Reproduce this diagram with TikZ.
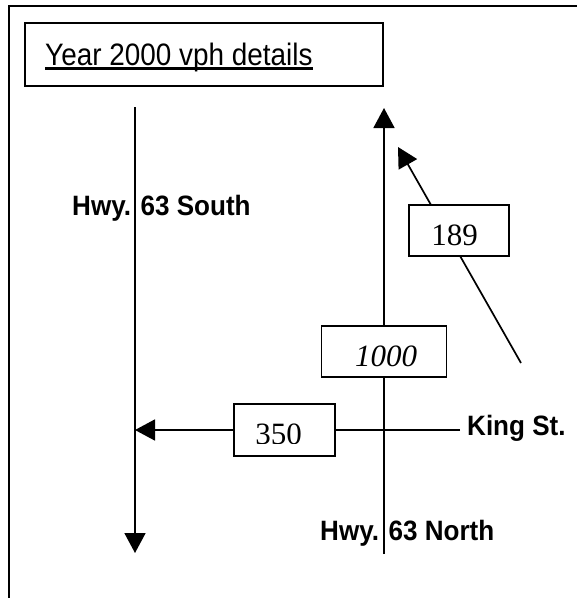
\documentclass[tikz,border=0pt]{standalone}
\usepackage{fontspec}
\setmainfont{Liberation Serif}
\newfontfamily\labfont[FakeStretch=0.93]{Liberation Sans}
\newfontfamily\titlefont[FakeStretch=0.9]{Liberation Sans}
\usetikzlibrary{arrows.meta}
\begin{document}
\begin{tikzpicture}[x=1pt,y=-1pt,
  road/.style={line width=1.7pt},
  head/.style={-{Triangle[length=20pt,width=21pt]}},
  numbox/.style={draw, line width=1.6pt, fill=white, minimum width=100pt, minimum height=51pt, inner sep=0pt},
  numtext/.style={font=\fontsize{31}{31}\selectfont, inner sep=0pt, anchor=base},
  roadlabel/.style={font=\labfont\bfseries\fontsize{28}{28}\selectfont, inner sep=0pt, anchor=base west}]
\useasboundingbox (0,0) rectangle (577,598);
% outer frame
\draw[line width=2.4pt] (9,620) -- (9,6) -- (600,6);
% title
\node[draw, line width=1.6pt, minimum width=358pt, minimum height=63pt, inner sep=0pt] (titlebox) at (204,54.5) {};
\node[font=\titlefont\fontsize{31}{31}\selectfont, inner sep=0pt, anchor=base west] (title) at (45,65) {Year 2000 vph details};
\draw[line width=2.2pt] ([yshift=-3.5pt]title.base west) -- ([yshift=-3.5pt]title.base east);
% Hwy 63 South
\coordinate (lsTop) at (135,107);
\coordinate (lsBot) at (135,553);
\draw[road,head] (lsTop) -- (lsBot);
% King St
\coordinate (kEnd) at (460,430);
\coordinate (kTip) at (135,430);
\node[numbox, minimum width=101pt, minimum height=52pt] (b350) at (284.5,430) {};
\draw[road] (kEnd) -- (b350.east);
\draw[road,head] (b350.west) -- (kTip);
\begin{scope}
\clip (234,404) rectangle (335,443);
\node[numtext] (t350) at (278.5,444) {350};
\end{scope}
% Hwy 63 North
\coordinate (rBot) at (384,554);
\coordinate (rTip) at (384,108);
\node[numbox, minimum width=125pt] (b1000) at (384,351.5) {};
\draw[road] (rBot) -- (b1000.south);
\draw[road,head] (b1000.north) -- (rTip);
\node[numtext, font=\itshape\fontsize{31}{31}\selectfont] (t1000) at (386,366) {1000};
% diagonal
\coordinate (dStart) at (521,363);
\coordinate (dTip) at (398,147);
\draw[road,head] (dStart) -- (dTip);
\node[numbox] (b189) at (459,230.5) {};
\node[numtext] (t189) at (454.5,245) {189};
% labels
\node[roadlabel] (south) at (72,215) {Hwy. 63 South};
\node[roadlabel] (king) at (467,435) {King St.};
\node[roadlabel] (north) at (320,540) {Hwy. 63 North};
\end{tikzpicture}
\end{document}
